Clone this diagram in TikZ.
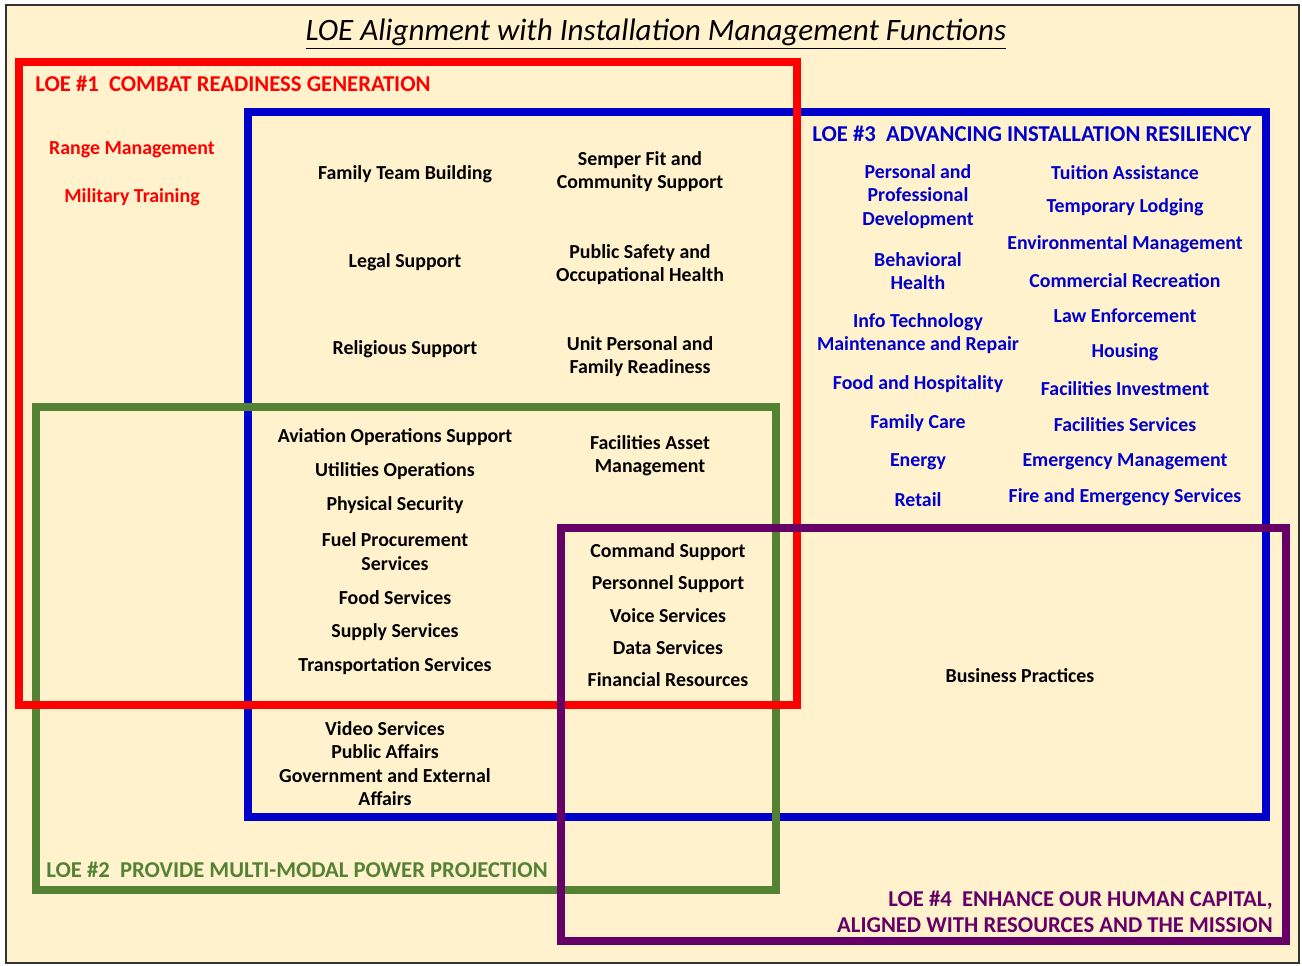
\documentclass[tikz,border=0pt]{standalone}
\usepackage{fontspec}
\setmainfont{Carlito}
\usetikzlibrary{positioning}
\definecolor{cream}{HTML}{FFF2CC}
\definecolor{loered}{HTML}{FF0000}
\definecolor{loeblue}{HTML}{0000CC}
\definecolor{loegreen}{HTML}{548235}
\definecolor{loepurple}{HTML}{660066}
\tikzset{font=\bfseries\fontsize{11.3}{13.2}\selectfont}
\tikzset{every node/.append style={inner sep=0pt}}

\begin{document}
\begin{tikzpicture}[x=0.02cm,y=-0.02cm,
  loebox/.style={line width=4.8pt},
  item/.style={align=center, yshift=-0.03cm},
  head/.style={font=\bfseries\fontsize{12.9}{14.7}\selectfont}]
  \useasboundingbox (0,0) rectangle (1302,965);
  \fill[white] (0,0) rectangle (1302,965);
  \draw[fill=cream, draw=black!80, line width=1pt] (6,5) rectangle (1299,963);

  \node[font=\itshape\fontsize{17.7}{21}\selectfont] (title) at (656,34)
       {\underline{LOE Alignment with Installation Management Functions}};

  % the four lines of effort
  \draw[loebox, loeblue] (248,112) rectangle (1266,817);
  \draw[loebox, loegreen] (36,407) rectangle (776,890);
  \draw[loebox, loered] (19,62) rectangle (797,705);
  \draw[loebox, loepurple] (561,528) rectangle (1286,941);

  \node[head, text=loered, anchor=west] (loe1) at (35,84) {LOE \#1\ \ COMBAT READINESS GENERATION};
  \node[head, text=loegreen, anchor=west] (loe2) at (46,870) {LOE \#2\ \ PROVIDE MULTI-MODAL POWER PROJECTION};
  \node[head, text=loeblue, anchor=west] (loe3) at (812,134) {LOE \#3\ \ ADVANCING INSTALLATION RESILIENCY};
  \node[head, text=loepurple, anchor=east, align=right]
       (loe4) at (1273,912) {LOE \#4\ \ ENHANCE OUR HUMAN CAPITAL,\\ALIGNED WITH RESOURCES AND THE MISSION};

  % LOE 1 only
  \node[item, text=loered] (range) at (132,148) {Range Management};
  \node[item, text=loered] (training) at (132,196) {Military Training};

  % LOE 1 and 3
  \node[item] (family) at (405,173) {Family Team Building};
  \node[item] (semper) at (640,170) {Semper Fit and\\Community Support};
  \node[item] (legal) at (405,261) {Legal Support};
  \node[item] (safety) at (640,263) {Public Safety and\\Occupational Health};
  \node[item] (religious) at (405,348) {Religious Support};
  \node[item] (unit) at (640,355) {Unit Personal and\\Family Readiness};

  % LOE 1, 2 and 3
  \node[item] (aviation) at (395,436) {Aviation Operations Support};
  \node[item] (utilities) at (395,470) {Utilities Operations};
  \node[item] (physical) at (395,504) {Physical Security};
  \node[item] (fuel) at (395,550) {Fuel Procurement\\Services};
  \node[item] (food) at (395,596) {Food Services};
  \node[item] (supply) at (395,631) {Supply Services};
  \node[item] (transport) at (395,665) {Transportation Services};
  \node[item] (assets) at (650,454) {Facilities Asset\\Management};

  % all four
  \node[item] (command) at (668,551) {Command Support};
  \node[item] (personnel) at (668,583) {Personnel Support};
  \node[item] (voice) at (668,614) {Voice Services};
  \node[item] (data) at (668,646) {Data Services};
  \node[item] (financial) at (668,678) {Financial Resources};

  % LOE 2 and 3
  \node[item] (video) at (385,762) {Video Services\\Public Affairs\\Government and External\\Affairs};

  % LOE 3 and 4
  \node[item] (business) at (1020,674) {Business Practices};

  % LOE 3 only
  \node[item, text=loeblue] (develop) at (918,195) {Personal and\\Professional\\Development};
  \node[item, text=loeblue] (behave) at (918,270) {Behavioral\\Health};
  \node[item, text=loeblue] (infotech) at (918,332) {Info Technology\\Maintenance and Repair};
  \node[item, text=loeblue] (hospitality) at (918,383) {Food and Hospitality};
  \node[item, text=loeblue] (care) at (918,422) {Family Care};
  \node[item, text=loeblue] (energy) at (918,460) {Energy};
  \node[item, text=loeblue] (retail) at (918,498) {Retail};

  \node[item, text=loeblue] (tuition) at (1125,171) {Tuition Assistance};
  \node[item, text=loeblue] (lodging) at (1125,206) {Temporary Lodging};
  \node[item, text=loeblue] (environment) at (1125,243) {Environmental Management};
  \node[item, text=loeblue] (recreation) at (1125,279) {Commercial Recreation};
  \node[item, text=loeblue] (law) at (1125,314) {Law Enforcement};
  \node[item, text=loeblue] (housing) at (1125,351) {Housing};
  \node[item, text=loeblue] (investment) at (1125,387) {Facilities Investment};
  \node[item, text=loeblue] (services) at (1125,423) {Facilities Services};
  \node[item, text=loeblue] (emergency) at (1125,460) {Emergency Management};
  \node[item, text=loeblue] (fire) at (1125,496) {Fire and Emergency Services};
\end{tikzpicture}
\end{document}
